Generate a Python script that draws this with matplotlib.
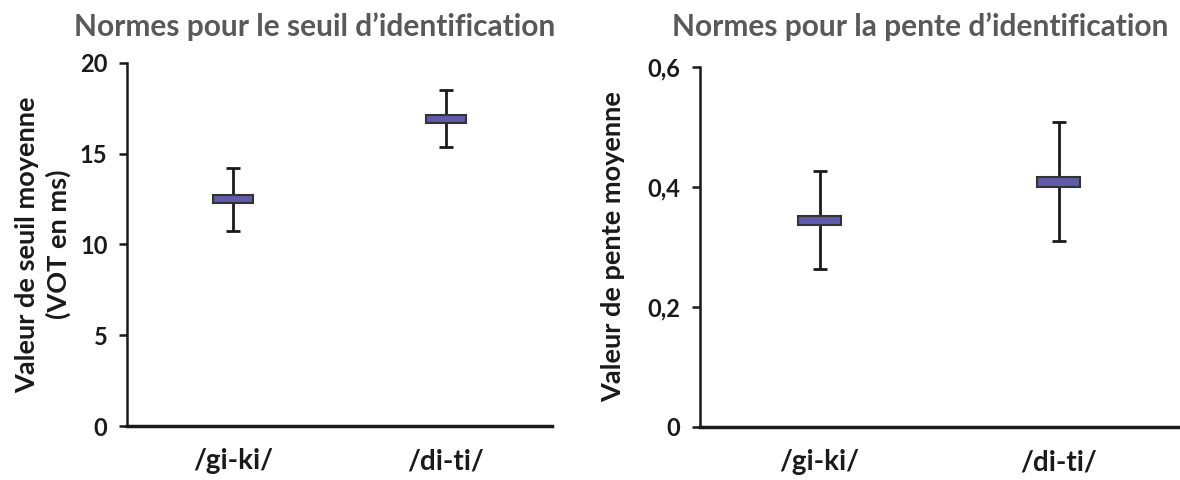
import numpy as np
import matplotlib
matplotlib.use("Agg")
import matplotlib.pyplot as plt

plt.rcParams['font.family'] = ['Lato', 'DejaVu Sans']

categories = ['/gi-ki/', '/di-ti/']

# seuil (VOT en ms)
seuil_box_low = [12.29, 16.69]
seuil_box_high = [12.73, 17.13]
seuil_whisk_low = [10.74, 15.37]
seuil_whisk_high = [14.2, 18.5]

# pente
pente_box_low = [0.337, 0.400]
pente_box_high = [0.352, 0.417]
pente_whisk_low = [0.263, 0.310]
pente_whisk_high = [0.427, 0.508]

box_color = '#5F5BAA'
edge_color = '#333333'
title_color = '#595959'
text_color = '#1a1a1a'


def draw_panel(ax, box_lo, box_hi, wl, wh, ylim, yticks, yticklabels, box_w):
    x = np.arange(len(categories))
    box_lo = np.array(box_lo)
    box_hi = np.array(box_hi)
    mid = (box_lo + box_hi) / 2
    # whiskers
    ax.errorbar(x, mid, yerr=[mid - np.array(wl), np.array(wh) - mid],
                fmt='none', ecolor=text_color, elinewidth=2, capsize=5,
                capthick=2, zorder=2)
    ax.bar(x, box_hi - box_lo, bottom=box_lo, width=box_w, color=box_color,
           edgecolor=edge_color, linewidth=1.5, zorder=3)
    ax.set_xlim(-0.5, 1.5)
    ax.set_ylim(*ylim)
    ax.set_yticks(yticks)
    ax.set_yticklabels(yticklabels, fontsize=17, fontweight='bold',
                       color=text_color)
    ax.set_xticks(x)
    ax.set_xticklabels(categories, fontsize=20, fontweight='bold',
                       color=text_color)
    ax.tick_params(axis='x', length=0, pad=16)
    ax.tick_params(axis='y', length=6, width=1.8, direction='out', pad=8,
                   color=text_color)
    for s in ['top', 'right']:
        ax.spines[s].set_visible(False)
    ax.spines['left'].set_linewidth(1.8)
    ax.spines['bottom'].set_linewidth(2.5)
    ax.spines['left'].set_color(text_color)
    ax.spines['bottom'].set_color(text_color)


fig = plt.figure(figsize=(11.8, 4.8), dpi=100)

ax1 = fig.add_axes([127/1180, 1 - 426/480, (552 - 127)/1180, (426 - 63)/480])
draw_panel(ax1, seuil_box_low, seuil_box_high, seuil_whisk_low,
           seuil_whisk_high, (0, 20), [0, 5, 10, 15, 20],
           ['0', '5', '10', '15', '20'], 0.19)
ax1.set_ylabel('Valeur de seuil moyenne\n(VOT en ms)', fontsize=19.5,
               fontweight='bold', color=text_color, linespacing=1.3)
ax1.yaxis.set_label_coords((71 - 127)/425, 0.5)

ax2 = fig.add_axes([700/1180, 1 - 427/480, (1178 - 700)/1180, (427 - 67)/480])
draw_panel(ax2, pente_box_low, pente_box_high, pente_whisk_low,
           pente_whisk_high, (0, 0.6), [0, 0.2, 0.4, 0.6],
           ['0', '0,2', '0,4', '0,6'], 0.18)
ax2.set_ylabel('Valeur de pente moyenne', fontsize=19.5, fontweight='bold',
               color=text_color)
ax2.yaxis.set_label_coords((625 - 700)/478, 0.5)

fig.text(315/1180, 1 - 27/480, 'Normes pour le seuil d\u2019identification',
         ha='center', va='center', fontsize=21.5, fontweight='bold',
         color=title_color)
fig.text(920/1180, 1 - 27/480, 'Normes pour la pente d\u2019identification',
         ha='center', va='center', fontsize=21.5, fontweight='bold',
         color=title_color)

fig.savefig('out.png', dpi=100)
